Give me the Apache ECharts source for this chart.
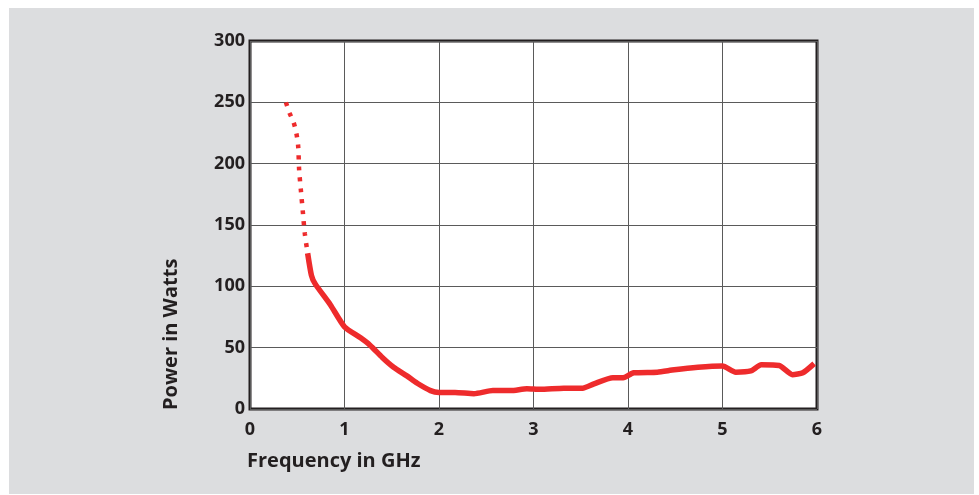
<!DOCTYPE html>
<html lang="en">
<head>
    <meta charset="UTF-8">
    <title>Power vs Frequency</title>
    <script src="https://cdn.jsdelivr.net/npm/echarts@6/dist/echarts.min.js"></script>
    <style>
        body { margin: 0; background: #fff; }
        #bg { position: absolute; left: 9px; top: 8px; width: 965px; height: 486px; background: #dcdddf; }
        #chart { position: absolute; left: 0; top: 0; width: 979px; height: 495px; }
    </style>
</head>
<body>
<div id="bg"></div>
<div id="chart"></div>
<script>
    // dotted (extrapolated) part of the curve
    var dottedFreq = [0.38, 0.42, 0.46, 0.49, 0.51, 0.52, 0.54, 0.56, 0.58, 0.61];
    var dottedPower = [250, 241, 234, 225, 214, 195, 177, 160, 143, 127];

    // measured part
    var solidFreq = [0.61, 0.65, 0.69, 0.85, 1.0, 1.17, 1.27, 1.4, 1.52, 1.66, 1.77, 1.91, 2.0, 2.17, 2.37,
        2.57, 2.76, 2.93, 3.07, 3.32, 3.52, 3.64, 3.84, 3.95, 4.06, 4.31, 4.49, 4.74, 5.0, 5.14,
        5.3, 5.41, 5.6, 5.74, 5.85, 5.97];
    var solidPower = [127, 109, 102, 85, 67, 58, 52, 42, 34, 27, 21, 15, 13.5, 13.5, 12.5,
        15, 15, 16.5, 16, 17, 17, 20.5, 25.5, 25.5, 29.5, 30, 32, 34, 35, 30,
        31, 36, 35.5, 28, 29.5, 37];

    var xTicks = [0, 1, 2, 3, 4, 5, 6];
    var yTicks = [0, 50, 100, 150, 200, 250, 300];

    function pairs(xs, ys) {
        var res = [];
        for (var i = 0; i < xs.length; i++) {
            res.push([xs[i], ys[i]]);
        }
        return res;
    }

    var textColor = '#231f20';
    var fontFam = '"Open Sans", sans-serif';
    var red = '#ee2b2c';

    var chart = echarts.init(document.getElementById('chart'));
    chart.setOption({
        animation: false,
        grid: {
            left: 250, right: 162, top: 41, bottom: 86,
            show: true,
            backgroundColor: '#fff',
            borderColor: textColor,
            borderWidth: 3
        },
        xAxis: {
            type: 'value',
            min: xTicks[0],
            max: xTicks[xTicks.length - 1],
            interval: 1,
            axisLine: { show: false },
            axisTick: { show: false },
            splitLine: { lineStyle: { color: '#5a5a5a', width: 1 } },
            axisLabel: {
                color: textColor, fontWeight: 'bold', fontSize: 18, fontFamily: fontFam, margin: 12
            }
        },
        yAxis: {
            type: 'value',
            min: yTicks[0],
            max: yTicks[yTicks.length - 1],
            interval: 50,
            axisLine: { show: false },
            axisTick: { show: false },
            splitLine: { lineStyle: { color: '#5a5a5a', width: 1 } },
            axisLabel: {
                color: textColor, fontWeight: 'bold', fontSize: 18, fontFamily: fontFam, margin: 5
            }
        },
        graphic: [
            {
                type: 'text',
                x: 247,
                y: 461,
                style: {
                    text: 'Frequency in GHz',
                    fill: textColor,
                    font: 'bold 20px ' + fontFam,
                    align: 'left',
                    verticalAlign: 'middle'
                }
            },
            {
                type: 'text',
                x: 171,
                y: 410,
                rotation: Math.PI / 2,
                style: {
                    text: 'Power in Watts',
                    fill: textColor,
                    font: 'bold 20px ' + fontFam,
                    align: 'left',
                    verticalAlign: 'middle'
                }
            }
        ],
        series: [
            {
                type: 'line',
                data: pairs(dottedFreq, dottedPower),
                showSymbol: false,
                smooth: 0.3,
                lineStyle: { color: red, width: 4.5, type: [4, 7] }
            },
            {
                type: 'line',
                data: pairs(solidFreq, solidPower),
                showSymbol: false,
                smooth: 0.2,
                lineStyle: { color: red, width: 5.5, join: 'round' }
            }
        ]
    });
</script>
</body>
</html>
